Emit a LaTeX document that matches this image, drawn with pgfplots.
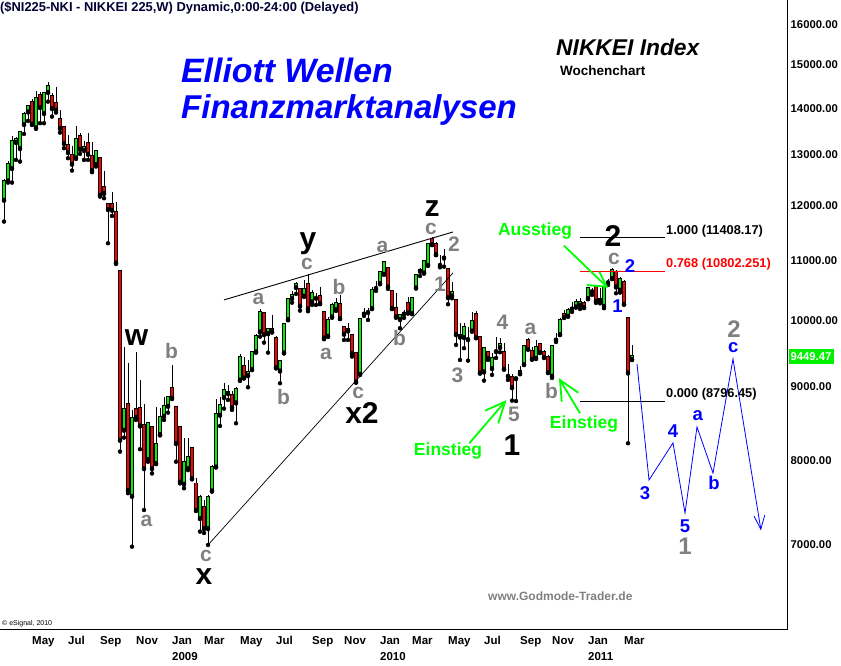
\documentclass[border=0pt]{standalone}
\usepackage{pgfplots}
\pgfplotsset{compat=1.18}
\usepackage{pgfplotstable}
\usepackage{fontspec}
\setmainfont{Liberation Sans}
\definecolor{cgreen}{RGB}{0,240,0}
\definecolor{agreen}{RGB}{0,255,0}
\definecolor{cred}{RGB}{255,0,0}
\definecolor{wgrey}{RGB}{128,128,128}
\definecolor{wblue}{RGB}{0,0,255}
\definecolor{navy}{RGB}{0,0,51}
\newcommand{\fs}[1]{\fontsize{#1}{#1}\selectfont}

% weekly candles: k = weeks since 5 Jan 2009
\pgfplotstableread{
k O H L C
-42 12104 12509 11695 12481
-41 12481 12878 12442 12811
-40 12730 13399 12442 13292
-39 13265 13384 12898 13327
-38 13140 13506 12864 13484
-37 13650 13912 13441 13875
-36 13926 14074 13721 14046
-34 13577 14391 13549 14225
-32 13890 14368 13672 14339
-31 14362 14591 14148 14499
-24 12945 13613 12919 13327
-22 13098 13292 12898 13160
-19 12811 13090 12763 13077
-12 8402 9590 8300 8683
-10 7566 8673 6981 8559
-6 8021 8513 7990 8492
-4 7970 8710 7961 8218
-3 8345 8697 8330 8573
-2 8591 8858 8536 8728
-1 8728 8868 8636 8850
3 7712 8292 7660 7983
4 7907 8292 7885 8054
7 7303 7579 7150 7551
9 7188 7579 7000 7551
10 7631 7948 7620 7927
11 7927 8822 7920 8614
12 8605 8853 8455 8742
13 8850 9048 8691 8949
14 8905 9024 8812 8925
16 8775 9000 8492 8963
17 9100 9480 9082 9439
19 9164 9389 8991 9208
20 9252 9514 9242 9505
21 9514 9785 9499 9749
22 9821 10176 9743 10138
24 9794 9883 9499 9858
27 9231 9390 9048 9379
28 9499 9940 9490 9937
29 10016 10350 10000 10340
30 10355 10476 10283 10405
31 10538 10621 10427 10588
33 10394 10660 10380 10515
35 10300 10493 10246 10438
39 9754 10058 9740 10005
40 10058 10273 10040 10241
41 10176 10355 10149 10273
47 9183 10020 9169 10016
48 10105 10193 10069 10112
49 10130 10193 10005 10138
50 10193 10538 10180 10493
51 10525 10643 10476 10531
52 10604 10802 10590 10792
53 10763 10974 10750 10964
57 10016 10095 9874 10085
58 10105 10165 10037 10112
60 10112 10371 10100 10355
61 10531 10757 10520 10745
62 10815 10860 10728 10826
63 10785 11004 10770 10986
64 10917 11299 10905 11282
68 11045 11192 10887 11051
70 10399 10631 10355 10455
72 9740 9962 9389 9770
73 9734 9952 9566 9889
75 9836 10138 9820 9994
78 9217 9575 9086 9566
80 9267 9490 9169 9415
81 9520 9743 9419 9525
82 9581 9727 9505 9627
86 9120 9144 8796 9130
87 9193 9301 9180 9227
88 9325 9610 9320 9605
91 9415 9692 9410 9581
95 9154 9610 9125 9601
96 9695 9794 9661 9703
97 9780 10032 9770 10005
99 10069 10193 10060 10165
100 10185 10297 10133 10193
101 10219 10345 10205 10300
102 10246 10360 10181 10300
104 10355 10548 10340 10521
105 10470 10526 10410 10476
107 10312 10521 10273 10345
108 10230 10614 10193 10538
109 10620 10672 10576 10626
110 10689 10870 10680 10831
112 10493 10717 10449 10672
115 9400 9616 9395 9449
}\greendata

\pgfplotstableread{
k O H L C
-35 14135 14209 13635 13657
-33 14300 14362 13672 14023
-30 14277 14339 13816 14000
-29 14112 14490 13904 13963
-28 13758 13963 13469 13564
-27 13585 13600 13140 13244
-26 13202 13420 12933 13057
-25 13007 13188 12681 12817
-23 13399 13469 13022 13119
-21 13244 13469 12898 13022
-20 12980 13271 12649 12689
-18 12933 12950 12168 12201
-17 12351 12675 12137 12234
-16 12022 12040 11300 11927
-15 12022 12253 11801 11914
-14 11871 12060 10935 10957
-13 10819 10830 8118 8270
-11 8752 9340 7600 7639
-9 8683 9505 8536 8573
-8 8697 9096 8149 8460
-7 8469 8756 7400 7907
-5 8446 8460 7843 7907
0 8977 9315 8830 8836
1 8710 8720 7991 8227
2 8446 8460 7720 7740
5 8162 8180 7770 7782
6 7720 7782 7390 7400
8 7432 7518 7135 7188
15 8883 8943 8673 8710
18 9305 9439 9120 9130
23 10112 10120 9651 9780
25 9858 10085 9810 9821
26 9723 9754 9270 9276
32 10505 10520 10154 10230
34 10593 10763 10144 10186
36 10370 10438 10246 10360
37 10394 10548 10260 10273
38 10138 10150 9703 9727
42 10262 10410 10020 10032
43 9894 9914 9692 9785
44 9858 9962 9692 9836
45 9770 9780 9439 9490
46 9499 9510 9057 9071
54 10870 10880 10510 10548
55 10476 10490 10180 10193
56 10193 10438 10040 10058
59 10283 10371 10110 10121
65 11372 11408 11270 11282
66 11282 11328 11090 11104
67 10925 11092 10877 10917
69 10843 10860 10257 10371
71 10328 10340 9616 9780
74 9710 9899 9379 9703
76 10101 10154 9720 9734
77 9743 9750 9190 9202
79 9514 9525 9389 9415
83 9514 9642 9250 9257
84 9160 9330 9096 9154
85 9144 9183 8802 8991
89 9692 9718 9550 9555
90 9529 9590 9400 9404
92 9627 9642 9500 9505
93 9505 9540 9425 9430
94 9430 9465 9200 9208
98 10101 10165 10040 10048
103 10273 10312 10200 10208
106 10560 10576 10279 10312
111 10802 10831 10438 10548
113 10621 10660 10254 10262
114 10032 10040 8227 9202
}\reddata

\pgfplotsset{
  wick/.style={only marks, mark=none, forget plot,
    error bars/.cd, y dir=plus, y explicit, error mark=none,
    error bar style={black, line width=1pt}},
  bodyout/.style={only marks, mark=none, forget plot,
    error bars/.cd, y dir=plus, y explicit, error mark=none,
    error bar style={black, line width=3.4pt}},
  bodyin/.style={only marks, mark=none, forget plot,
    error bars/.cd, y dir=plus, y explicit, error mark=none,
    error bar style={#1, line width=1.7pt}},
}

\begin{document}
\begin{tikzpicture}[x=1pt,y=1pt]
\path[use as bounding box] (0,0) rectangle (841,665);
\begin{axis}[
  at={(0pt,35pt)}, anchor=south west,
  scale only axis, width=787pt, height=630pt,
  xmin=-43, xmax=153.75,
  ymode=log, ymin=6117, ymax=16627,
  axis x line*=bottom, axis y line*=right,
  axis line style={black, line width=0.9pt, -},
  major tick length=0pt, minor tick num=0,
  ytick={7000,8000,9000,10000,11000,12000,13000,14000,15000,16000},
  yticklabels={7000.00,8000.00,9000.00,10000.00,11000.00,12000.00,13000.00,14000.00,15000.00,16000.00},
  yticklabel style={font=\bfseries\fs{11.3}, anchor=west, inner sep=0pt, xshift=3.5pt},
  xtick={-35,-26,-18,-9,0,8,17,26,35,43,52,60,69,78,87,95,104,113},
  xticklabels={May,Jul,Sep,Nov,Jan,Mar,May,Jul,Sep,Nov,Jan,Mar,May,Jul,Sep,Nov,Jan,Mar},
  xticklabel style={font=\bfseries\fs{11.5}, anchor=north west, inner sep=0pt, yshift=-6.5pt},
]
% wicks
\addplot[wick] table[x=k, y=L, y error plus expr={\thisrow{H}-\thisrow{L}}] {\greendata};
\addplot[wick] table[x=k, y=L, y error plus expr={\thisrow{H}-\thisrow{L}}] {\reddata};
% bodies outline
\addplot[bodyout] table[x=k, y expr={\thisrow{O}/1.0013}, y error plus expr={\thisrow{C}*1.0013-\thisrow{O}/1.0013}] {\greendata};
\addplot[bodyout] table[x=k, y expr={\thisrow{C}/1.0013}, y error plus expr={\thisrow{O}*1.0013-\thisrow{C}/1.0013}] {\reddata};
% bodies fill
\addplot[bodyin=cgreen] table[x=k, y=O, y error plus expr={\thisrow{C}-\thisrow{O}}] {\greendata};
\addplot[bodyin=cred] table[x=k, y=C, y error plus expr={\thisrow{O}-\thisrow{C}}] {\reddata};

% wedge lines
\addplot[black, line width=0.9pt, forget plot] coordinates {(13,10328) (70.25,11504)};
\addplot[black, line width=0.7pt, forget plot] coordinates {(9,7000) (70.25,10780)};
% fibonacci levels
\addplot[black, line width=1pt, forget plot] coordinates {(102,11408.17) (123.25,11408.17)};
\addplot[cred, line width=1pt, forget plot] coordinates {(102,10802.251) (123.25,10802.251)};
\addplot[black, line width=1pt, forget plot] coordinates {(102,8796.45) (123.25,8796.45)};
% projected wave path
\addplot[wblue, line width=0.8pt, forget plot] coordinates {(116.25,9330) (119.25,7761) (125.25,8231) (128.25,7365) (131.25,8442) (135.25,7848) (140.25,9404) (147.2,7177)};
\addplot[wblue, line width=0.8pt, forget plot] coordinates {(145.5,7330) (147.2,7177) (148.2,7342)};
\end{axis}

\begin{scope}[shift={(0,665)}, y=-1pt]
% header texts
\node[anchor=west, inner sep=0, text=navy, font=\bfseries\fs{12.9}] at (0,8) {(\$NI225-NKI - NIKKEI 225,W) Dynamic,0:00-24:00 (Delayed)};
\node[anchor=west, inner sep=0, text=wblue, font=\bfseries\itshape\fs{33.8}] at (181,70) {Elliott Wellen};
\node[anchor=west, inner sep=0, text=wblue, font=\bfseries\itshape\fs{33}] at (181,110) {Finanzmarktanalysen};
\node[anchor=west, inner sep=0, font=\bfseries\itshape\fs{22.8}] at (556,47) {NIKKEI Index};
\node[anchor=west, inner sep=0, font=\bfseries\fs{13.5}] at (560,71) {Wochenchart};
\node[anchor=west, inner sep=0, text=wgrey, font=\bfseries\fs{12}] at (488,596) {www.Godmode-Trader.de};
\node[anchor=west, inner sep=0, font=\fs{7}] at (2,624) {© eSignal, 2010};
% year labels
\node[anchor=north west, inner sep=0, font=\bfseries\fs{11.5}] at (172,652.5) {2009};
\node[anchor=north west, inner sep=0, font=\bfseries\fs{11.5}] at (380,652.5) {2010};
\node[anchor=north west, inner sep=0, font=\bfseries\fs{11.5}] at (588,652.5) {2011};
% price box
\node[fill=cgreen, text=white, font=\bfseries\fs{11.3}, inner sep=0, minimum width=45, minimum height=15] at (811,357) {9449.47};
% fib labels
\node[anchor=west, inner sep=0, font=\bfseries\fs{12.8}] at (666,231) {1.000 (11408.17)};
\node[anchor=west, inner sep=0, text=cred, font=\bfseries\fs{12.8}] at (666,264) {0.768 (10802.251)};
\node[anchor=west, inner sep=0, font=\bfseries\fs{12.8}] at (666,394) {0.000 (8796.45)};
% black wave labels
\begin{scope}[every node/.style={inner sep=0, font=\bfseries\fs{30}}]
\node at (136.5,337.5) {w};
\node at (204,577) {x};
\node at (308,244) {y};
\node at (362,413) {x2};
\node at (432,209) {z};
\node at (512,445) {1};
\node at (613,236.5) {2};
\end{scope}
% grey wave labels
\begin{scope}[every node/.style={inner sep=0, text=wgrey, font=\bfseries\fs{21}}]
\node at (171.5,351) {b};
\node at (146.5,520.5) {a};
\node at (206,556) {c};
\node at (258.5,299) {a};
\node at (283.5,397) {b};
\node at (307,264.3) {c};
\node at (339,286.5) {b};
\node at (326,354) {a};
\node at (382.5,246.7) {a};
\node at (399.5,338.3) {b};
\node at (358.3,393) {c};
\node at (431,229) {c};
\node at (454,244.5) {2};
\node at (440,284) {1};
\node at (457.5,375) {3};
\node at (502.5,322.5) {4};
\node at (530.5,329) {a};
\node at (514,414) {5};
\node at (551.5,390.5) {b};
\node at (614,258.5) {c};
\end{scope}
\node[inner sep=0, text=wgrey, font=\bfseries\fs{24}] at (734,329) {2};
\node[inner sep=0, text=wgrey, font=\bfseries\fs{24}] at (685,546) {1};
% blue wave labels
\begin{scope}[every node/.style={inner sep=0, text=wblue, font=\bfseries\fs{18.5}}]
\node at (630,266) {2};
\node at (617.5,306) {1};
\node at (645,493.3) {3};
\node at (673,431) {4};
\node at (685,526) {5};
\node at (697.7,415.8) {a};
\node at (714,483.3) {b};
\node at (733.3,348) {c};
\end{scope}
% entries / exit
\begin{scope}[every node/.style={inner sep=0, text=agreen, font=\bfseries\fs{17.5}}]
\node at (448,451.5) {Einstieg};
\node at (584,424) {Einstieg};
\node at (535,231) {Ausstieg};
\end{scope}
\begin{scope}[agreen, line width=1.8pt]
\draw (469.3,443.3) -- (505,401.7);
\draw (485,410.7) -- (505,401.7) -- (498.3,423.3);
\draw (580,413.3) -- (560,380);
\draw (561.7,401.7) -- (560,380) -- (578.3,392.7);
\draw (564,245.7) -- (606.7,286.7);
\draw (599.3,271.7) -- (606.7,286.7) -- (586.7,285);
\end{scope}
\end{scope}
\end{tikzpicture}
\end{document}
